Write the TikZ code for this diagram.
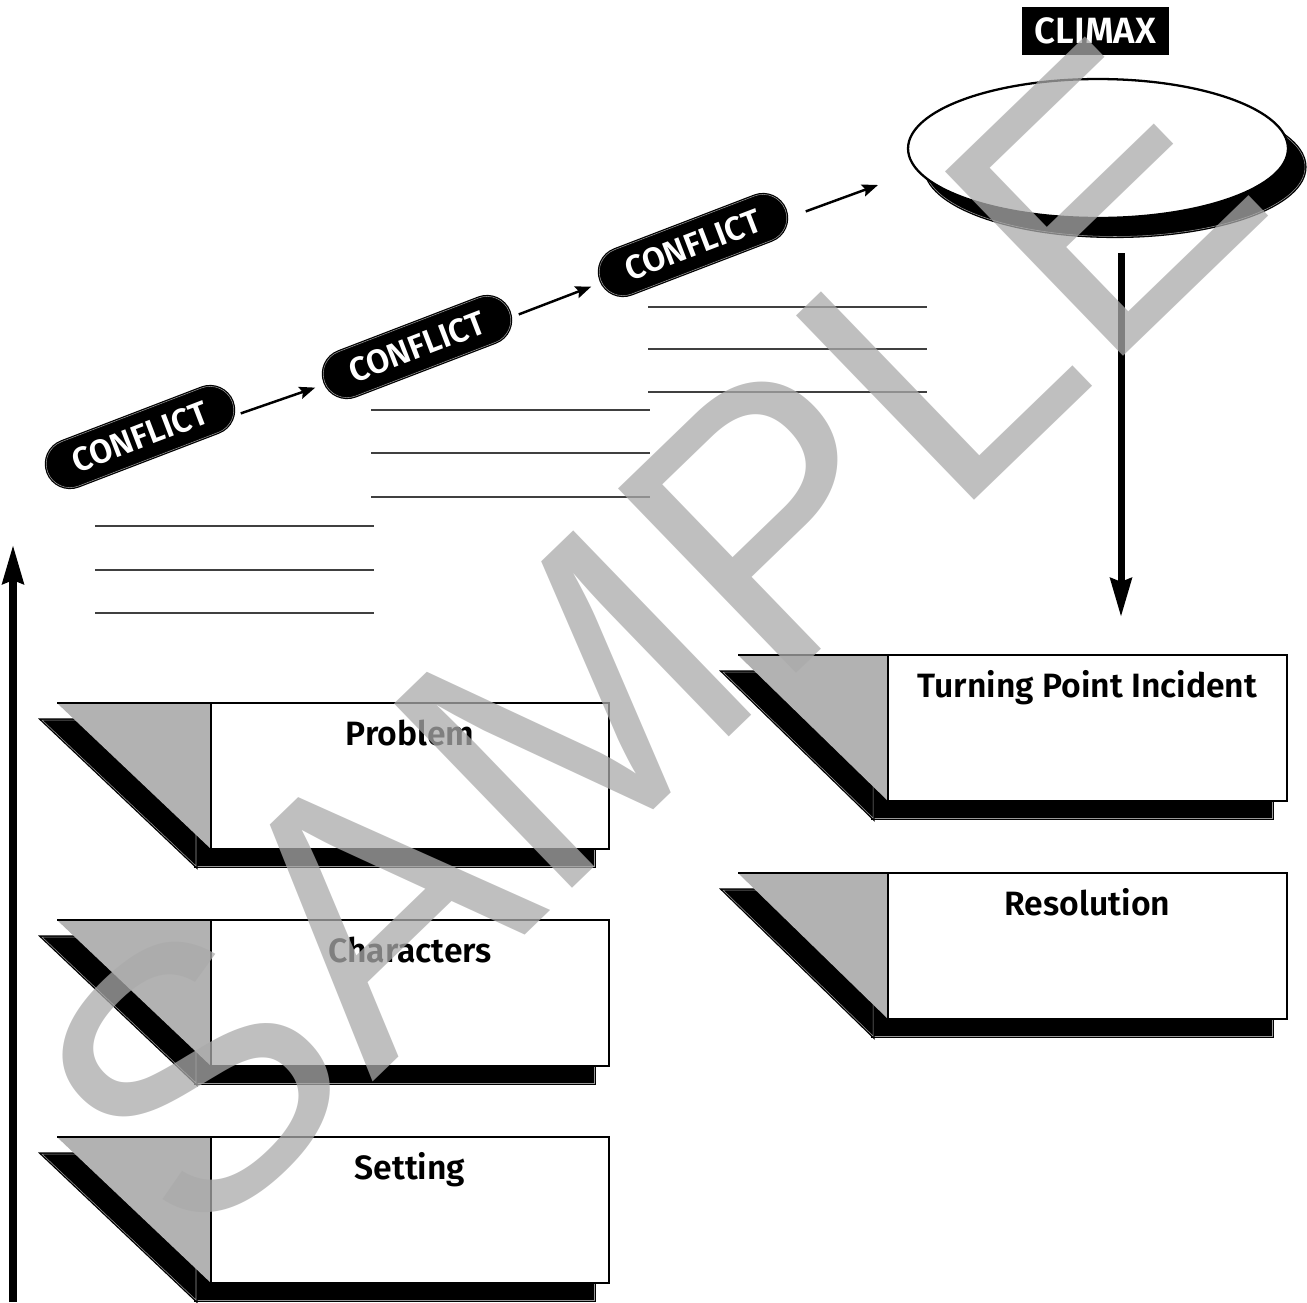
\documentclass[tikz,border=0pt]{standalone}
\usepackage{fontspec}
\setmainfont{Fira Sans}[BoldFont={Fira Sans SemiBold}]
\newfontfamily\wmfont{Liberation Sans}
\usetikzlibrary{shapes.geometric,shapes.misc,arrows.meta,calc}
\definecolor{trigray}{gray}{0.70}
\definecolor{wmgray}{gray}{0.667}
\definecolor{linegray}{gray}{0.25}
\definecolor{seamgray}{gray}{0.6}

\newcommand\storybox[6]{% #1 name, #2 left tip, #3 rect left, #4 rect right, #5 top, #6 label
  \path[shadowsty] (#3-15,#5+17) rectangle (#4-15,#5+163);
  \path[shadowsty] (#2-15,#5+17) -- (#3-15,#5+17) -- (#3-15,#5+163) -- cycle;
  \fill[trigray] (#2,#5) -- (#3,#5) -- (#3,#5+146) -- cycle;
  \draw[boxline] (#2,#5) -- (#3,#5);
  \node[boxsty, minimum width={(#4-#3)*0.02cm}, anchor=north west] (#1) at (#3,#5) {};
  \node[lbl, anchor=base] (#1-label) at ($(#1.north)+(0,42)$) {#6};
}

\begin{document}
\begin{tikzpicture}[x=0.02cm,y=-0.02cm,
  lbl/.style={font=\fontsize{19.2}{19.2}\selectfont\bfseries, inner sep=0},
  boxline/.style={line width=1.2pt, draw=black},
  boxsty/.style={draw=black, line width=1.2pt, fill=white, minimum height=2.92cm, inner sep=0, outer sep=0},
  shadowsty/.style={fill=black, draw=black, line width=0.75pt, double=seamgray, double distance=0.3pt},
  pill/.style={rounded rectangle, fill=black, draw=black, line width=0.7pt, double=seamgray, double distance=0.3pt,
    minimum width=3.95cm, minimum height=0.95cm, inner sep=0, text=white, font=\fontsize{19}{19}\selectfont\bfseries},
  smallarrow/.style={line width=1.4pt, -{Stealth[length=9pt, width=7pt, inset=1.5pt]}},
  bigarrow/.style={line width=4pt, -{Stealth[length=22pt, width=12pt, inset=2pt]}},
  blank/.style={line width=0.8pt, draw=linegray},
  wm/.style={font=\wmfont\fontsize{212}{212}\selectfont, text=wmgray, text opacity=0.75, inner sep=0}
]
\useasboundingbox (0,0) rectangle (1307,1302);

% answer lines
\foreach \yy in {526,570,613} \draw[blank] (95,\yy) -- (374,\yy);
\foreach \yy in {410,453,497} \draw[blank] (371,\yy) -- (650,\yy);
\foreach \yy in {307,349,392} \draw[blank] (648,\yy) -- (927,\yy);

% conflict pills
\node[pill, rotate=21] (c1) at (140,437) {CONFLICT};
\node[pill, rotate=21] (c2) at (417,347) {CONFLICT};
\node[pill, rotate=21] (c3) at (693,245) {CONFLICT};
\coordinate (toclimax) at (878,185);
\draw[smallarrow] ($(c1.east)+(8,12)$) -- ($(c2.west)+(-9,5)$);
\draw[smallarrow] ($(c2.east)+(9,3)$) -- ($(c3.west)+(-9,6)$);
\draw[smallarrow] ($(c3.east)+(20,2)$) -- (toclimax);

% climax
\node[fill=black, text=white, minimum width=2.94cm, minimum height=0.96cm, inner sep=0,
  font=\fontsize{20.8}{20.8}\selectfont\bfseries] (climaxlbl) at (1095.5,31) {CLIMAX};
\node[ellipse, shadowsty, minimum width=7.6cm, minimum height=2.78cm, inner sep=0] (ellsh) at (1115,167) {};
\node[ellipse, draw=black, fill=white, line width=1.3pt, minimum width=7.6cm, minimum height=2.78cm, inner sep=0] (ell) at (1098,148.5) {};

% story boxes
\storybox{problem}{57}{211}{609}{703}{Problem}
\storybox{characters}{57}{211}{609}{920}{Characters}
\storybox{setting}{57}{211}{609}{1137}{Setting}
\storybox{turning}{738}{888}{1287}{655}{Turning Point Incident}
\storybox{resolution}{738}{888}{1287}{873}{Resolution}

% big arrows
\coordinate (upbase) at (13,1302);
\coordinate (uptip) at (13,545);
\draw[bigarrow] (upbase) -- (uptip);
\coordinate (downtop) at (1121,253);
\coordinate (downtip) at (1121,617);
\draw[bigarrow] (downtop) -- (downtip);

% watermark
\node[wm, rotate=44] (sample) at (648,638) {SAMPLE};
\end{tikzpicture}
\end{document}
